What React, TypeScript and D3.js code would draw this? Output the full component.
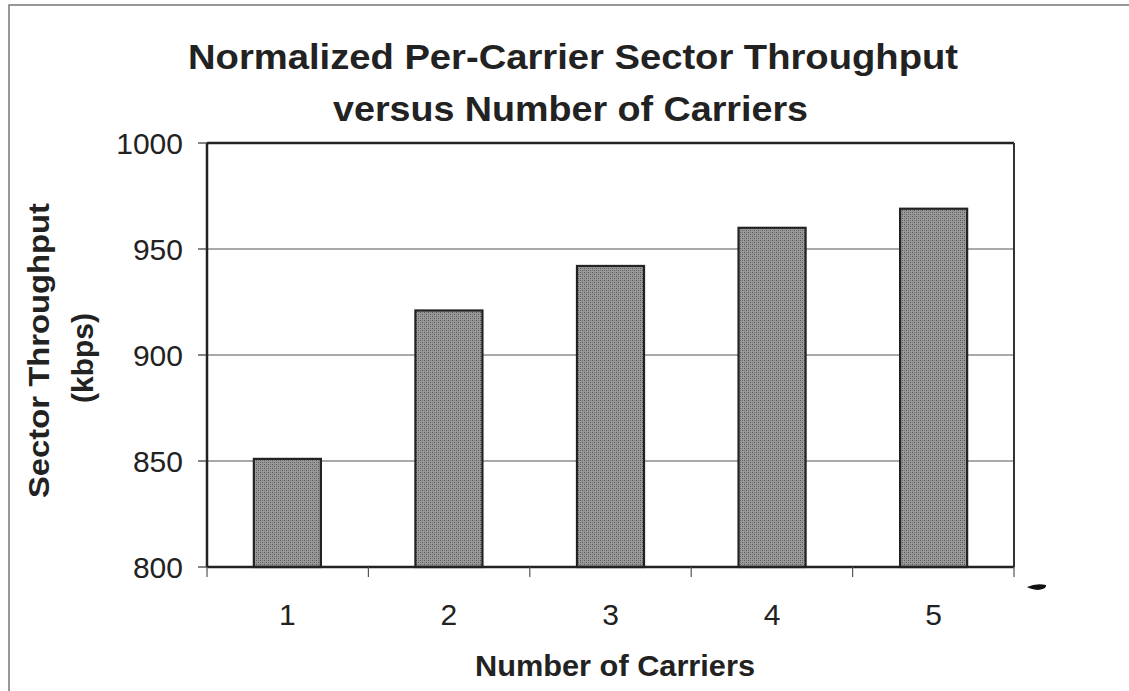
import React from "react";
import * as d3 from "d3";

const carriers = ["1", "2", "3", "4", "5"];
const throughput = [851, 921, 942, 960, 969];
const yTicks = [800, 850, 900, 950, 1000];

const W = 1129;
const H = 691;
const M = { left: 207, right: 1014, top: 143, bottom: 567 };

export default function App() {
  const x = d3
    .scaleBand<string>()
    .domain(carriers)
    .range([M.left, M.right])
    .paddingInner(0.585)
    .paddingOuter(0.29);
  const y = d3.scaleLinear().domain([800, 1000]).range([M.bottom, M.top]);
  const step = (M.right - M.left) / carriers.length;
  const font = "Arimo, 'Liberation Sans', Arial, sans-serif";

  return (
    <svg
      width={W}
      height={H}
      style={{ position: "absolute", left: 0, top: 0, background: "#fff" }}
      fontFamily={font}
    >
      <defs>
        <pattern id="stipple" width="4" height="4" patternUnits="userSpaceOnUse">
          <rect width="4" height="4" fill="#9a9a9a" />
          <rect x="0" y="0" width="1" height="1" fill="#555" />
          <rect x="2" y="2" width="1" height="1" fill="#555" />
          <rect x="2" y="0" width="1" height="1" fill="#777" />
          <rect x="0" y="2" width="1" height="1" fill="#777" />
        </pattern>
      </defs>

      {/* outer frame */}
      <rect x={9} y={5} width={1130} height={700} fill="none" stroke="#777" strokeWidth={1.5} />

      {/* title */}
      <text
        x={188}
        y={69}
        fontSize={35}
        fontWeight="bold"
        fill="#222"
        textLength={770}
        lengthAdjust="spacingAndGlyphs"
      >
        Normalized Per-Carrier Sector Throughput
      </text>
      <text
        x={333}
        y={121}
        fontSize={35}
        fontWeight="bold"
        fill="#222"
        textLength={475}
        lengthAdjust="spacingAndGlyphs"
      >
        versus Number of Carriers
      </text>

      {/* gridlines */}
      {yTicks.slice(1, -1).map((t) => (
        <line key={t} x1={M.left} x2={M.right} y1={y(t)} y2={y(t)} stroke="#555" strokeWidth={1.2} />
      ))}

      {/* bars */}
      {carriers.map((c, i) => (
        <rect
          key={c}
          x={x(c)}
          y={y(throughput[i])}
          width={x.bandwidth()}
          height={y(800) - y(throughput[i])}
          fill="url(#stipple)"
          stroke="#222"
          strokeWidth={2.2}
        />
      ))}

      {/* plot frame */}
      <line x1={M.left} x2={M.right} y1={M.top} y2={M.top} stroke="#222" strokeWidth={2.5} />
      <line x1={M.right} x2={M.right} y1={M.top} y2={M.bottom} stroke="#333" strokeWidth={2} />
      <line x1={M.left} x2={M.left} y1={M.top} y2={M.bottom} stroke="#222" strokeWidth={2.5} />
      <line x1={M.left} x2={M.right} y1={M.bottom} y2={M.bottom} stroke="#222" strokeWidth={2.5} />

      {/* y ticks and labels */}
      {yTicks.map((t) => (
        <g key={t}>
          <line x1={M.left - 9} x2={M.left} y1={y(t)} y2={y(t)} stroke="#333" strokeWidth={1.2} />
          <text x={183} y={y(t) + 11} textAnchor="end" fontSize={30} fill="#222">
            {t}
          </text>
        </g>
      ))}

      {/* x ticks at category boundaries */}
      {d3.range(carriers.length + 1).map((i) => (
        <line
          key={i}
          x1={M.left + i * step}
          x2={M.left + i * step}
          y1={M.bottom}
          y2={M.bottom + 10}
          stroke="#555"
          strokeWidth={1.2}
        />
      ))}
      {carriers.map((c) => (
        <text
          key={c}
          x={(x(c) as number) + x.bandwidth() / 2}
          y={625}
          textAnchor="middle"
          fontSize={30}
          fill="#222"
        >
          {c}
        </text>
      ))}

      {/* axis titles */}
      <text
        x={475}
        y={676}
        fontSize={30}
        fontWeight="bold"
        fill="#222"
        textLength={280}
        lengthAdjust="spacingAndGlyphs"
      >
        Number of Carriers
      </text>
      <text
        transform="translate(49,498) rotate(-90)"
        fontSize={30}
        fontWeight="bold"
        fill="#222"
        textLength={295}
        lengthAdjust="spacingAndGlyphs"
      >
        Sector Throughput
      </text>
      <text
        transform="translate(93,403) rotate(-90)"
        fontSize={30}
        fontWeight="bold"
        fill="#222"
        textLength={90}
        lengthAdjust="spacingAndGlyphs"
      >
        (kbps)
      </text>

      {/* small stray mark */}
      <path d="M1027,587 Q1036,583 1046,585 Q1047,589 1038,590 Q1030,589 1027,587 Z" fill="#111" />
    </svg>
  );
}
